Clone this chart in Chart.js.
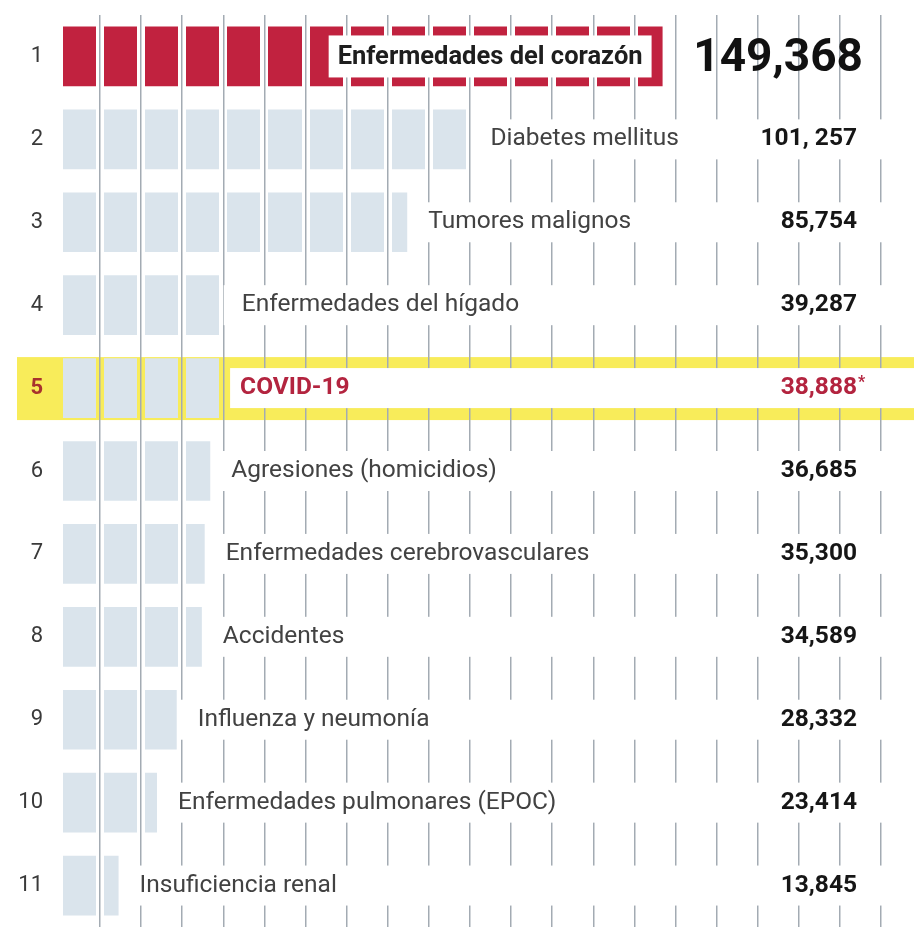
<!DOCTYPE html>
<html lang="es">
<head>
<meta charset="utf-8">
<title>Principales causas de muerte</title>
<script src="https://cdn.jsdelivr.net/npm/chart.js@4.4.1/dist/chart.umd.min.js"></script>
<style>
    html, body { margin: 0; padding: 0; background: #fff; }
    #wrap { width: 914px; height: 942px; position: relative; }
</style>
</head>
<body>
<div id="wrap"><canvas id="causesChart"></canvas></div>
<script>
const ranks = ["1", "2", "3", "4", "5", "6", "7", "8", "9", "10", "11"];
const causes = [
    "Enfermedades del corazón",
    "Diabetes mellitus",
    "Tumores malignos",
    "Enfermedades del hígado",
    "COVID-19",
    "Agresiones (homicidios)",
    "Enfermedades cerebrovasculares",
    "Accidentes",
    "Influenza y neumonía",
    "Enfermedades pulmonares (EPOC)",
    "Insuficiencia renal"
];
const deaths = [149368, 101257, 85754, 39287, 38888, 36685, 35300, 34589, 28332, 23414, 13845];
const deathLabels = ["149,368", "101, 257", "85,754", "39,287", "38,888*", "36,685", "35,300", "34,589", "28,332", "23,414", "13,845"];
const leaderIndex = 0;
const covidIndex = 4;
const gridColumns = 20;

const RED = "#c1223f";
const BLUE = "#dae4ec";
const YELLOW = "#f8ec5a";
const GRID = "#a3abb3";
const FONT = "Roboto, 'Noto Sans', sans-serif";

// helper: the bar element of one row
const barOf = (chart, i) => chart.getDatasetMeta(0).data[i];

// cut the bars into blocks along the grid, then lay the yellow band behind everything
const blocksPlugin = {
    id: "blocks",
    afterDatasetsDraw(chart) {
        const ctx = chart.ctx;
        const area = chart.chartArea;
        const g = chart.scales.x2;
        ctx.save();
        g.ticks.forEach((t) => {
            const px = g.getPixelForValue(t.value);
            ctx.clearRect(px - 4, area.top, 8, area.height);
        });
        const bar = barOf(chart, covidIndex);
        ctx.globalCompositeOperation = "destination-over";
        ctx.fillStyle = YELLOW;
        ctx.fillRect(area.left - 46, bar.y - 31, area.right - area.left + 46, 63);
        ctx.restore();
    }
};

// names and numbers for every row
const labelsPlugin = {
    id: "rowLabels",
    afterDraw(chart) {
        const ctx = chart.ctx;
        const area = chart.chartArea;
        const valueRight = area.right - 57;
        ctx.save();
        ctx.textBaseline = "middle";

        causes.forEach((name, i) => {
            const bar = barOf(chart, i);
            const y = bar.y;

            if (i === leaderIndex) {
                ctx.font = "bold 25.5px " + FONT;
                const w = ctx.measureText(name).width;
                const right = bar.x - 11;
                const left = right - w - 18;
                ctx.fillStyle = "#fff";
                ctx.fillRect(left, y - 21, right - left, 42);
                ctx.fillStyle = "#1e1e1e";
                ctx.textAlign = "center";
                ctx.fillText(name, (left + right) / 2, y + 1);

                ctx.font = "bold 46px " + FONT;
                ctx.textAlign = "right";
                ctx.fillStyle = "#111";
                ctx.fillText(deathLabels[i], valueRight + 6, y + 3);
                return;
            }

            const labelX = bar.x + 21;
            const bandX = i === covidIndex ? labelX - 10 : bar.x + 3;
            ctx.fillStyle = "#fff";
            ctx.fillRect(bandX, y - 20, area.right - bandX, 40);

            const isCovid = i === covidIndex;
            ctx.textAlign = "left";
            ctx.font = (isCovid ? "bold " : "") + "24.5px " + FONT;
            ctx.fillStyle = isCovid ? "#b3243f" : "#424242";
            ctx.fillText(name, labelX, y);

            let txt = deathLabels[i];
            let star = "";
            if (txt.endsWith("*")) {
                star = "*";
                txt = txt.slice(0, -1);
            }
            ctx.font = "bold 24.5px " + FONT;
            ctx.textAlign = "right";
            ctx.fillStyle = isCovid ? "#b3243f" : "#161616";
            ctx.fillText(txt, valueRight, y);
            if (star) {
                ctx.font = "bold 16px " + FONT;
                ctx.textAlign = "left";
                ctx.fillText(star, valueRight + 1, y - 5);
            }
        });
        ctx.restore();
    }
};

const ctxCauses = document.getElementById("causesChart").getContext("2d");
const causesChart = new Chart(ctxCauses, {
    type: "bar",
    data: {
        labels: ranks,
        datasets: [
            {
                data: deaths,
                backgroundColor: (c) => (c.dataIndex === leaderIndex ? RED : BLUE),
                borderWidth: 0,
                barPercentage: 0.72,
                categoryPercentage: 1,
            },
        ],
    },
    options: {
        indexAxis: "y",
        responsive: true,
        maintainAspectRatio: false,
        animation: false,
        layout: { padding: { top: 15, bottom: 15, left: 0, right: 0 } },
        plugins: {
            legend: { display: false },
            tooltip: { enabled: false },
        },
        scales: {
            x: {
                display: false,
                min: 0,
                max: 212000,
            },
            x2: {
                type: "linear",
                axis: "x",
                position: "bottom",
                min: -0.9,
                max: 19.8,
                afterFit: (s) => { s.height = 0; },
                afterBuildTicks: (s) => {
                    s.ticks = Array.from({ length: gridColumns }, (_, k) => ({ value: k }));
                },
                ticks: { display: false },
                border: { display: false },
                grid: { color: GRID, lineWidth: 1.5, drawTicks: false, z: 1 },
            },
            y: {
                afterFit: (s) => {
                    s.width = 63;
                    s.paddingTop = 0;
                    s.paddingBottom = 0;
                },
                border: { display: false },
                grid: { display: false },
                ticks: {
                    padding: 12,
                    color: (c) => (c.index === covidIndex ? "#a8322d" : "#3a3a3a"),
                    font: (c) => ({
                        family: FONT,
                        size: 22,
                        weight: c.index === covidIndex ? "bold" : "normal",
                    }),
                },
            },
        },
    },
    plugins: [blocksPlugin, labelsPlugin],
});
</script>
</body>
</html>
